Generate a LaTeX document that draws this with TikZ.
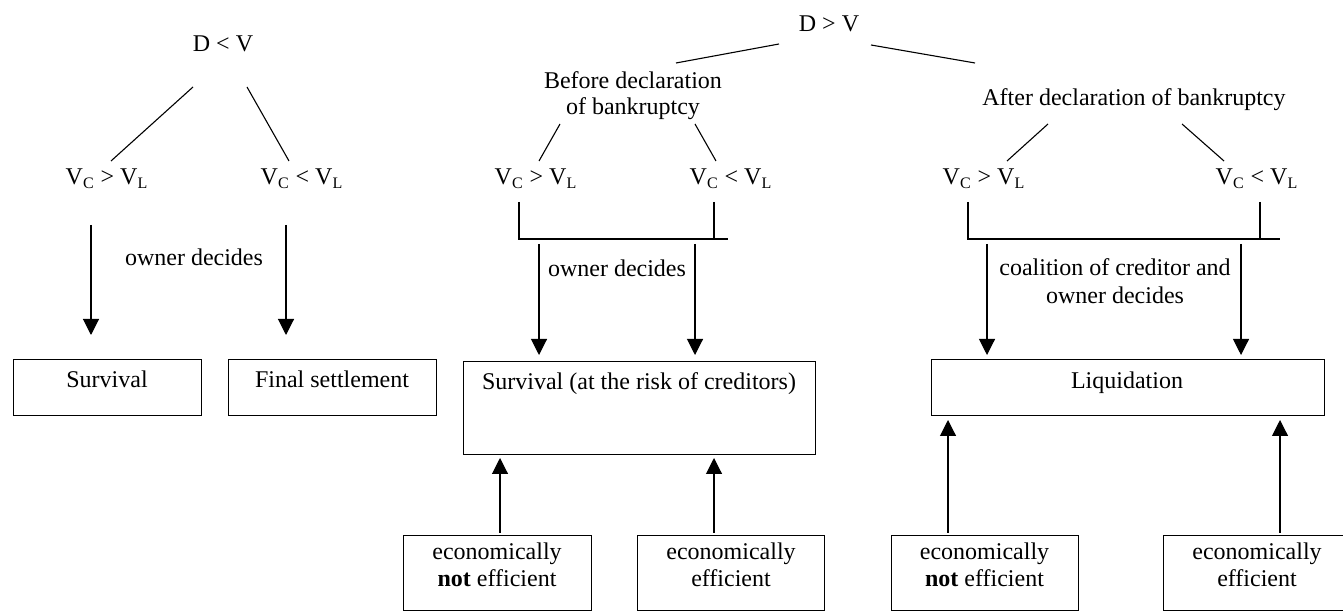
\documentclass[tikz,border=0pt]{standalone}
\usepackage{fontspec}
\setmainfont{Liberation Serif}
\usetikzlibrary{arrows.meta}
\begin{document}
\begin{tikzpicture}[x=0.5pt,y=-0.5pt,
  every node/.style={inner sep=0pt, font=\fontsize{12pt}{14pt}\selectfont},
  txt/.style={anchor=base},
  mtxt/.style={anchor=north, align=center},
  box/.style={draw, line width=0.6pt, anchor=north west},
  ln/.style={line width=0.55pt},
  arr/.style={line width=0.55pt, -{Triangle[length=8pt,width=8pt]}}]
\clip (0,0) rectangle (1343,613);
\useasboundingbox (0,0) rectangle (1343,613);

% ---------- left tree ----------
\node[txt] (dlv) at (223,52) {D < V};
\node[txt] (l1) at (107,185) {V\textsubscript{C} > V\textsubscript{L}};
\node[txt] (l2) at (302,185) {V\textsubscript{C} < V\textsubscript{L}};
\node[txt] (od1) at (194,266) {owner decides};
\node[box, minimum width=94pt, minimum height=28pt] (surv) at (13,359) {};
\node[txt] (survt) at (107,388) {Survival};
\node[box, minimum width=104pt, minimum height=28pt] (fin) at (228,359) {};
\node[txt] (fint) at (332,388) {Final settlement};

\coordinate (a1) at (193,87); \coordinate (a2) at (111,161);
\coordinate (a3) at (247,87); \coordinate (a4) at (289,161);
\draw[ln] (a1) -- (a2);
\draw[ln] (a3) -- (a4);
\coordinate (b1) at (91,225); \coordinate (b2) at (91,335);
\coordinate (b3) at (286,225); \coordinate (b4) at (286,335);
\draw[arr] (b1) -- (b2);
\draw[arr] (b3) -- (b4);

% ---------- D > V ----------
\node[txt] (dgv) at (829,32) {D > V};
\coordinate (c1) at (779,44); \coordinate (c2) at (676,63);
\coordinate (c3) at (871,45); \coordinate (c4) at (975,63);
\draw[ln] (c1) -- (c2);
\draw[ln] (c3) -- (c4);

% ---------- middle tree ----------
\node[mtxt, font=\fontsize{12pt}{13pt}\selectfont] (bef) at (633,71.6) {Before declaration\\of bankruptcy};
\node[txt] (m1) at (536,185) {V\textsubscript{C} > V\textsubscript{L}};
\node[txt] (m2) at (731,185) {V\textsubscript{C} < V\textsubscript{L}};
\node[txt] (od2) at (617,277) {owner decides};
\node[box, minimum width=176pt, minimum height=46.5pt] (survc) at (463,361) {};
\node[txt] (survct) at (639,390) {Survival (at the risk of creditors)};
\node[box, minimum width=94pt, minimum height=37.5pt] (e1) at (403,535) {};
\node[mtxt, font=\fontsize{12pt}{13.5pt}\selectfont] (e1t) at (497,542.6) {economically\\\textbf{not} efficient};
\node[box, minimum width=93.5pt, minimum height=37.5pt] (e2) at (637,535) {};
\node[mtxt, font=\fontsize{12pt}{13.5pt}\selectfont] (e2t) at (731,542.6) {economically\\efficient};

\coordinate (d1) at (560,124); \coordinate (d2) at (539,161);
\coordinate (d3) at (695,124); \coordinate (d4) at (716,161);
\draw[ln] (d1) -- (d2);
\draw[ln] (d3) -- (d4);
\coordinate (k1) at (519,202); \coordinate (k2) at (519,239); \coordinate (k3) at (728,239);
\coordinate (k4) at (714,202); \coordinate (k5) at (714,239);
\draw[ln] (k1) -- (k2) -- (k3);
\draw[ln] (k4) -- (k5);
\coordinate (f1) at (539,244); \coordinate (f2) at (539,355);
\coordinate (f3) at (695,244); \coordinate (f4) at (695,355);
\draw[arr] (f1) -- (f2);
\draw[arr] (f3) -- (f4);
\coordinate (g1) at (500,533); \coordinate (g2) at (500,458);
\coordinate (g3) at (714,533); \coordinate (g4) at (714,458);
\draw[arr] (g1) -- (g2);
\draw[arr] (g3) -- (g4);

% ---------- right tree ----------
\node[txt] (aft) at (1134,106) {After declaration of bankruptcy};
\node[txt] (r1) at (984,185) {V\textsubscript{C} > V\textsubscript{L}};
\node[txt] (r2) at (1257,185) {V\textsubscript{C} < V\textsubscript{L}};
\node[mtxt] (coal) at (1115,258.6) {coalition of creditor and\\owner decides};
\node[box, minimum width=196.5pt, minimum height=28pt] (liq) at (931,359) {};
\node[txt] (liqt) at (1127,389) {Liquidation};
\node[box, minimum width=93.5pt, minimum height=37.5pt] (e3) at (891,535) {};
\node[mtxt, font=\fontsize{12pt}{13.5pt}\selectfont] (e3t) at (984.5,542.6) {economically\\\textbf{not} efficient};
\node[box, minimum width=93.5pt, minimum height=37.5pt] (e4) at (1163,535) {};
\node[mtxt, font=\fontsize{12pt}{13.5pt}\selectfont] (e4t) at (1257,542.6) {economically\\efficient};

\coordinate (h1) at (1048,124); \coordinate (h2) at (1007,161);
\coordinate (h3) at (1182,124); \coordinate (h4) at (1224,161);
\draw[ln] (h1) -- (h2);
\draw[ln] (h3) -- (h4);
\coordinate (p1) at (968,202); \coordinate (p2) at (968,239); \coordinate (p3) at (1280,239);
\coordinate (p4) at (1260,202); \coordinate (p5) at (1260,239);
\draw[ln] (p1) -- (p2) -- (p3);
\draw[ln] (p4) -- (p5);
\coordinate (q1) at (987,244); \coordinate (q2) at (987,355);
\coordinate (q3) at (1241,244); \coordinate (q4) at (1241,355);
\draw[arr] (q1) -- (q2);
\draw[arr] (q3) -- (q4);
\coordinate (s1) at (948,533); \coordinate (s2) at (948,420);
\coordinate (s3) at (1280,533); \coordinate (s4) at (1280,420);
\draw[arr] (s1) -- (s2);
\draw[arr] (s3) -- (s4);
\end{tikzpicture}
\end{document}
